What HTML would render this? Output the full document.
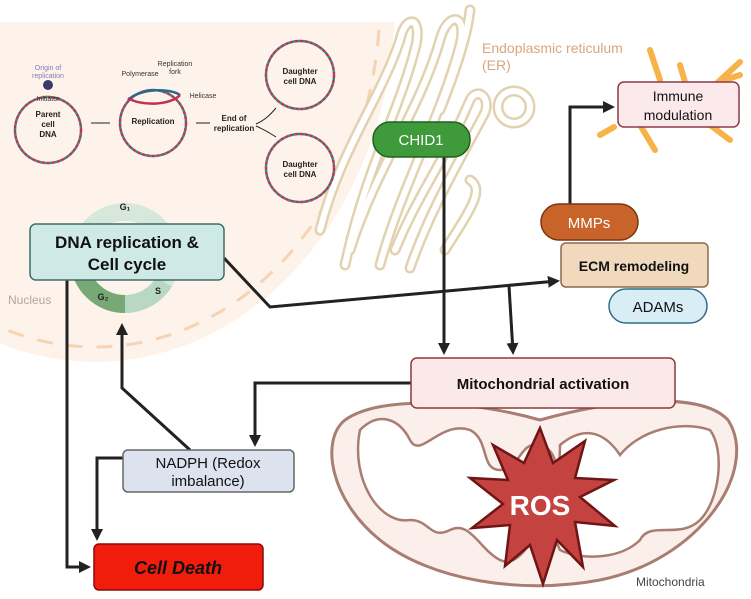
<!DOCTYPE html>
<html><head><meta charset="utf-8"><style>
body{margin:0;background:#fff;}
svg text{font-family:"Liberation Sans",sans-serif;}
</style></head><body>
<svg width="751" height="594" viewBox="0 0 751 594" xmlns="http://www.w3.org/2000/svg">
<defs>
<marker id="ah" markerWidth="12" markerHeight="12" refX="9" refY="6" orient="auto" markerUnits="userSpaceOnUse"><path d="M0,0 L12,6 L0,12 z" fill="#222"/></marker>
<clipPath id="nc"><rect x="0" y="22" width="751" height="572"/></clipPath>
</defs>
<!-- nucleus -->
<g clip-path="url(#nc)">
<ellipse cx="95" cy="0" rx="300" ry="362" fill="#fdf3ea"/>
<ellipse cx="95" cy="0" rx="285" ry="347" fill="none" stroke="#f6d3b3" stroke-width="3" stroke-dasharray="16,14"/>
</g>
<text x="8" y="304" font-size="12" fill="#b0a8a0">Nucleus</text>
<!-- ER -->
<g fill="none" stroke-linecap="round">
<g stroke="#e2d2b0" stroke-width="11">
<path d="M320,230 C340,150 380,100 400,40 C405,15 422,15 416,45 C400,110 365,170 345,265"/>
<path d="M350,250 C375,170 420,110 440,40 C447,12 468,12 460,45 C440,120 400,190 380,265"/>
<path d="M395,250 C420,190 440,170 470,100 C478,85 494,100 482,118 C460,160 430,210 410,268"/>
<path d="M440,110 C460,60 468,30 470,10"/>
<path d="M445,250 C470,210 485,190 470,180"/>
<circle cx="514" cy="107" r="16"/>
</g>
<g stroke="#fff" stroke-width="6">
<path d="M320,230 C340,150 380,100 400,40 C405,15 422,15 416,45 C400,110 365,170 345,265"/>
<path d="M350,250 C375,170 420,110 440,40 C447,12 468,12 460,45 C440,120 400,190 380,265"/>
<path d="M395,250 C420,190 440,170 470,100 C478,85 494,100 482,118 C460,160 430,210 410,268"/>
<path d="M440,110 C460,60 468,30 470,10"/>
<path d="M445,250 C470,210 485,190 470,180"/>
<circle cx="514" cy="107" r="16"/>
</g>
</g>
<text x="482" y="53" font-size="14" fill="#d9a77d">Endoplasmic reticulum</text>
<text x="482" y="70" font-size="14" fill="#d9a77d">(ER)</text>
<!-- DNA replication illustration -->
<g fill="none" stroke-width="2.5">
<circle cx="48" cy="130" r="33" stroke="#c03050" stroke-dasharray="3,2"/>
<circle cx="48" cy="130" r="33" stroke="#2a8a8a" stroke-dasharray="2,3" stroke-dashoffset="2"/>
<circle cx="153" cy="123" r="33" stroke="#c03050" stroke-dasharray="3,2"/>
<circle cx="153" cy="123" r="33" stroke="#2a8a8a" stroke-dasharray="2,3" stroke-dashoffset="2"/>
<circle cx="300" cy="75" r="34" stroke="#c03050" stroke-dasharray="3,2"/>
<circle cx="300" cy="75" r="34" stroke="#2a8a8a" stroke-dasharray="2,3" stroke-dashoffset="2"/>
<circle cx="300" cy="168" r="34" stroke="#c03050" stroke-dasharray="3,2"/>
<circle cx="300" cy="168" r="34" stroke="#2a8a8a" stroke-dasharray="2,3" stroke-dashoffset="2"/>
<path d="M128,100 C140,88 170,88 180,95" stroke="#2a6a8a"/>
<path d="M128,98 C140,106 170,106 180,95" stroke="#c03050"/>
</g>
<circle cx="48" cy="85" r="5" fill="#3a3a6a"/>
<g font-size="7" fill="#333" text-anchor="middle">
<text x="48" y="70" fill="#8877bb">Origin of</text><text x="48" y="78" fill="#8877bb">replication</text>
<text x="48" y="101">Initiator</text>
<text x="140" y="76">Polymerase</text>
<text x="175" y="66">Replication</text><text x="175" y="74">fork</text>
<text x="203" y="98">Helicase</text>
</g>
<g font-size="8" font-weight="bold" fill="#222" text-anchor="middle">
<text x="48" y="117">Parent</text><text x="48" y="127">cell</text><text x="48" y="137">DNA</text>
<text x="153" y="124">Replication</text>
<text x="300" y="74">Daughter</text><text x="300" y="84">cell DNA</text>
<text x="300" y="167">Daughter</text><text x="300" y="177">cell DNA</text>
<text x="234" y="121">End of</text><text x="234" y="131">replication</text>
</g>
<g stroke="#222" stroke-width="1" fill="none">
<path d="M91,123 L110,123"/><path d="M196,123 L210,123"/>
<path d="M256,124 C265,120 270,115 276,108"/><path d="M256,126 C265,130 270,133 276,137"/>
</g>
<!-- cell cycle ring -->
<circle cx="125" cy="258" r="46" fill="none" stroke="#d6e8da" stroke-width="18"/>
<path d="M125,304 A46,46 0 0 1 80,268" fill="none" stroke="#79a877" stroke-width="18"/>
<path d="M125,304 A46,46 0 0 0 164,282" fill="none" stroke="#b9d8c4" stroke-width="18"/>
<text x="125" y="210" font-size="9" font-weight="bold" text-anchor="middle" fill="#222">G₁</text>
<text x="158" y="294" font-size="9" font-weight="bold" text-anchor="middle" fill="#222">S</text>
<text x="103" y="300" font-size="9" font-weight="bold" text-anchor="middle" fill="#222">G₂</text>
<!-- mitochondria -->
<path d="M345,420 C380,395 470,400 540,420 C610,400 700,390 728,420 C760,470 700,560 600,580 C520,595 430,580 380,540 C330,500 320,440 345,420 Z" fill="#fbefec" stroke="#a97d72" stroke-width="3"/>
<path d="M360,430 C380,410 400,420 410,440 C420,460 440,420 470,430 C490,440 480,470 500,470 C520,470 520,440 540,445 C560,450 560,480 550,500 C540,530 520,570 500,560 C480,550 470,520 450,530 C430,540 430,520 410,520 C380,525 350,480 360,430 Z" fill="#fff" stroke="#a97d72" stroke-width="2.5"/>
<path d="M560,445 C590,420 610,440 620,455 C640,430 680,420 710,430 C725,450 720,500 700,520 C680,540 650,520 640,540 C620,560 580,560 560,550 C545,520 560,490 560,445 Z" fill="#fff" stroke="#a97d72" stroke-width="2.5"/>
<text x="636" y="586" font-size="12" fill="#444">Mitochondria</text>
<!-- ROS star -->
<polygon points="540,428 553,463 585,441 575,478 614,480 580,497 615,526 575,522 583,567 557,540 543,584 530,545 505,566 510,525 472,528 503,504 470,478 508,480 493,445 524,463" fill="#c4423f" stroke="#6e1515" stroke-width="2.5"/>
<text x="540" y="515" font-size="28" font-weight="bold" fill="#fff" text-anchor="middle">ROS</text>
<!-- immune cell -->
<g fill="#f7b24a" stroke="#f7b24a" stroke-linecap="round">
<path d="M650,50 L660,80 M680,65 L685,82 M740,62 L715,85 M740,75 L725,80 M614,127 L600,135 M640,125 L655,150 M710,125 L730,140" stroke-width="6"/>
</g>
<!-- connectors -->
<g stroke="#222" stroke-width="3" fill="none">
<path d="M224,258 L270,307 L557,281" marker-end="url(#ah)"/>
<path d="M509,286 L513,352" marker-end="url(#ah)"/>
<path d="M444,157 L444,352" marker-end="url(#ah)"/>
<path d="M570,204 L570,107 L612,107" marker-end="url(#ah)"/>
<path d="M411,383 L255,383 L255,444" marker-end="url(#ah)"/>
<path d="M190,450 L122,388 L122,326" marker-end="url(#ah)"/>
<path d="M123,458 L97,458 L97,538" marker-end="url(#ah)"/>
<path d="M67,280 L67,567 L88,567" marker-end="url(#ah)"/>
</g>
<!-- boxes -->
<rect x="30" y="224" width="194" height="56" rx="6" fill="#cfe9e6" stroke="#3c6e6a" stroke-width="1.5"/>
<text x="127" y="248" font-size="17" font-weight="bold" text-anchor="middle" fill="#111">DNA replication &amp;</text>
<text x="127" y="270" font-size="17" font-weight="bold" text-anchor="middle" fill="#111">Cell cycle</text>
<rect x="373" y="122" width="97" height="35" rx="17" fill="#3f9a3b" stroke="#245e21" stroke-width="1.5"/>
<text x="421" y="145" font-size="15" text-anchor="middle" fill="#fff">CHID1</text>
<rect x="618" y="82" width="121" height="45" rx="6" fill="#fbe9ec" stroke="#8b3a4a" stroke-width="1.5"/>
<text x="678" y="101" font-size="14" text-anchor="middle" fill="#111">Immune</text>
<text x="678" y="120" font-size="14" text-anchor="middle" fill="#111">modulation</text>
<rect x="541" y="204" width="97" height="36" rx="18" fill="#c8642a" stroke="#7a3510" stroke-width="1.5"/>
<text x="589" y="228" font-size="15" text-anchor="middle" fill="#fff">MMPs</text>
<rect x="561" y="243" width="147" height="44" rx="5" fill="#f0d9bd" stroke="#8a6a50" stroke-width="1.5"/>
<text x="634" y="271" font-size="14" font-weight="bold" text-anchor="middle" fill="#111">ECM remodeling</text>
<rect x="609" y="289" width="98" height="34" rx="17" fill="#d9edf5" stroke="#2f6f84" stroke-width="1.5"/>
<text x="658" y="312" font-size="15" text-anchor="middle" fill="#111">ADAMs</text>
<rect x="411" y="358" width="264" height="50" rx="6" fill="#fbe9e9" stroke="#8b3a3a" stroke-width="1.5"/>
<text x="543" y="389" font-size="15" font-weight="bold" text-anchor="middle" fill="#111">Mitochondrial activation</text>
<rect x="123" y="450" width="171" height="42" rx="5" fill="#dde2ef" stroke="#666" stroke-width="1.5"/>
<text x="208" y="468" font-size="15" text-anchor="middle" fill="#111">NADPH (Redox</text>
<text x="208" y="486" font-size="15" text-anchor="middle" fill="#111">imbalance)</text>
<rect x="94" y="544" width="169" height="46" rx="5" fill="#f21c0c" stroke="#8a0a0a" stroke-width="1.5"/>
<text x="178" y="574" font-size="18" font-weight="bold" font-style="italic" text-anchor="middle" fill="#111">Cell Death</text>
</svg>
</body></html>
